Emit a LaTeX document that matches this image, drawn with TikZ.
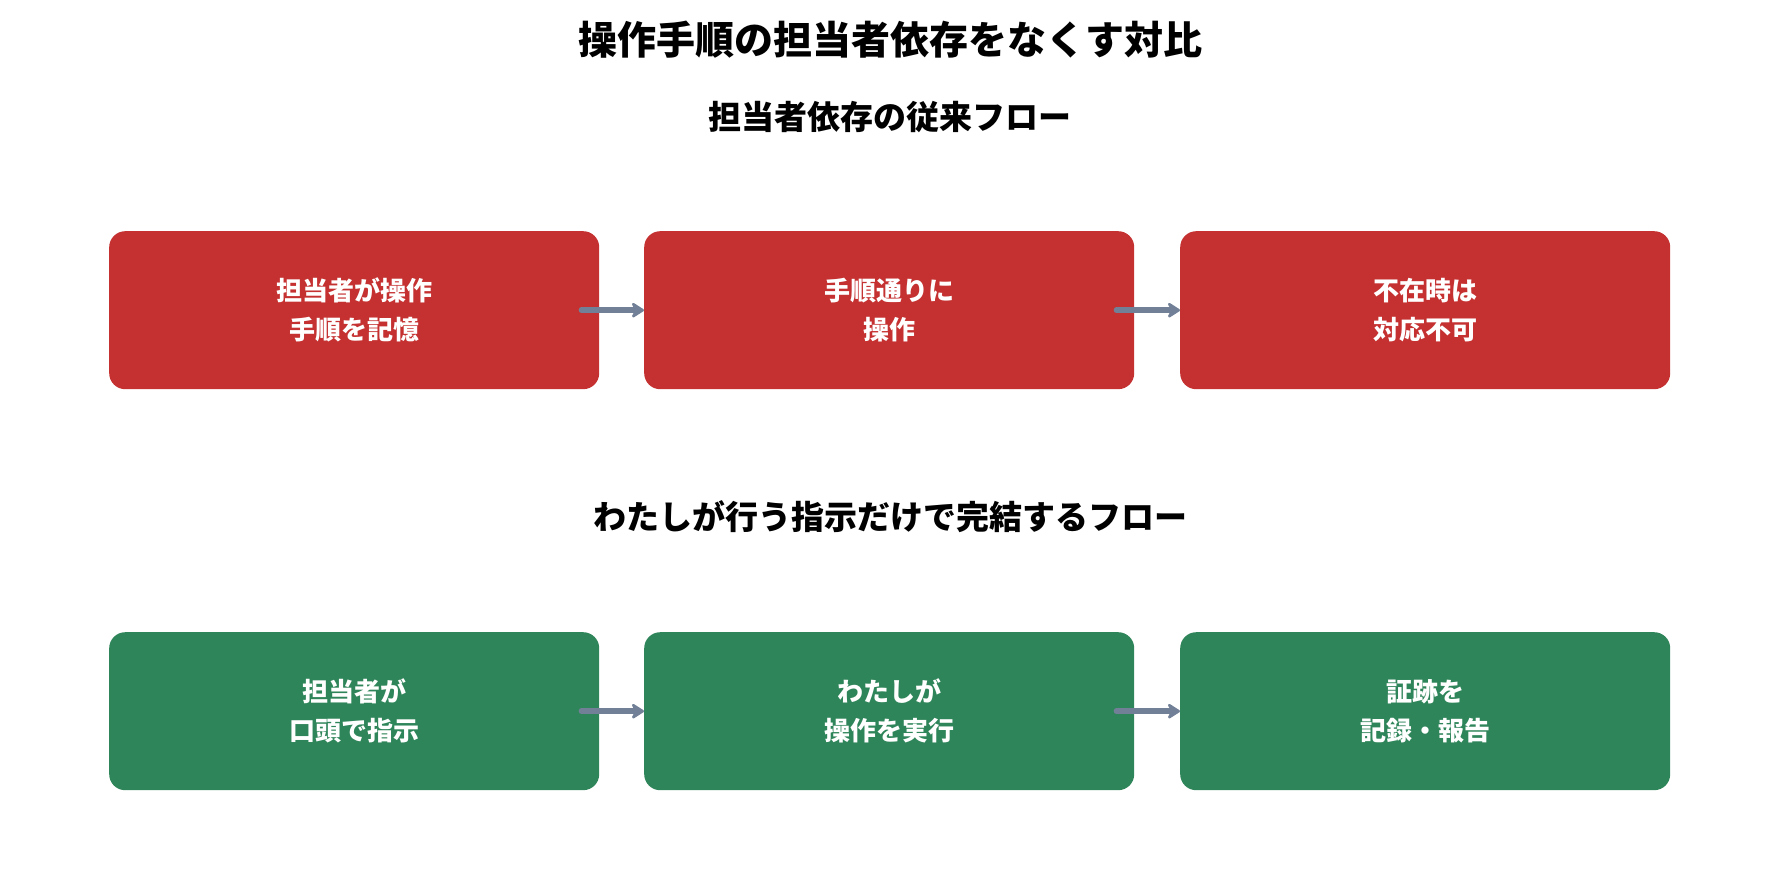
\documentclass[tikz,border=0pt]{standalone}
\usepackage{fontspec}
\setmainfont{Noto Sans CJK JP}
\usepackage{tikz}
\usetikzlibrary{arrows.meta}
\definecolor{oldred}{HTML}{C53030}
\definecolor{newgreen}{HTML}{2F855A}
\definecolor{arrowgray}{HTML}{718096}
\tikzstyle{field} = [rectangle, rounded corners=16pt, minimum height=158pt, minimum width=490pt, inner sep=0pt, text=white, align=center, font=\bfseries\fontsize{26}{39}\selectfont]
\tikzstyle{flow} = [draw=arrowgray, line width=5.5pt, line cap=round, -{Stealth[length=15pt, width=19pt, inset=5pt, round]}]

\begin{document}
\begin{tikzpicture}[x=1pt, y=-1pt]

        \useasboundingbox (0,0) rectangle (1779,891);

        \node (title) [font=\bfseries\fontsize{39}{45}\selectfont] at (890,40) {操作手順の担当者依存をなくす対比};
        \node (oldhead) [font=\bfseries\fontsize{33}{39}\selectfont] at (890,117) {担当者依存の従来フロー};
        \node (newhead) [font=\bfseries\fontsize{33}{39}\selectfont] at (890,517) {わたしが行う指示だけで完結するフロー};

        \node (old1) [field, fill=oldred, anchor=north west] at (109,231) {担当者が操作\\手順を記憶};
        \node (old2) [field, fill=oldred, anchor=north west] at (644,231) {手順通りに\\操作};
        \node (old3) [field, fill=oldred, anchor=north west] at (1180,231) {不在時は\\対応不可};

        \node (new1) [field, fill=newgreen, anchor=north west] at (109,632) {担当者が\\口頭で指示};
        \node (new2) [field, fill=newgreen, anchor=north west] at (644,632) {わたしが\\操作を実行};
        \node (new3) [field, fill=newgreen, anchor=north west] at (1180,632) {証跡を\\記録・報告};

        \draw [flow] ([xshift=-18pt]old1.east) -- (old2.west);
        \draw [flow] ([xshift=-18pt]old2.east) -- (old3.west);
        \draw [flow] ([xshift=-18pt]new1.east) -- (new2.west);
        \draw [flow] ([xshift=-18pt]new2.east) -- (new3.west);

    \end{tikzpicture}
\end{document}
